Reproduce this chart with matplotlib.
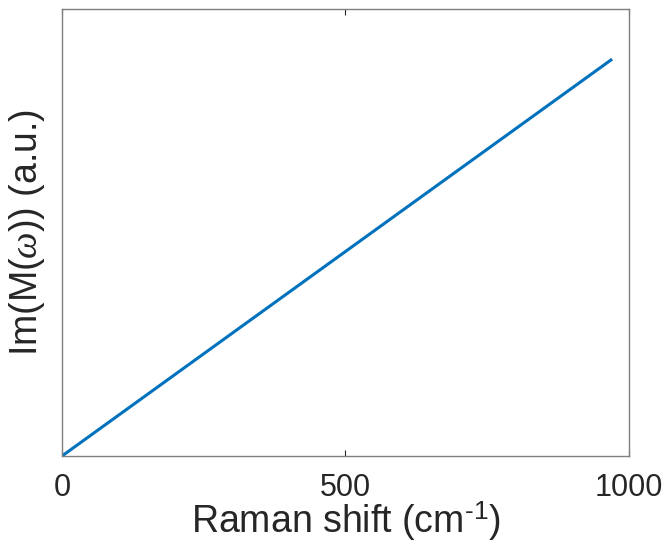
import numpy as np
import matplotlib
matplotlib.use("Agg")
import matplotlib.pyplot as plt

plt.rcParams['font.family'] = ['Liberation Sans', 'DejaVu Sans']
plt.rcParams['mathtext.fontset'] = 'custom'
plt.rcParams['mathtext.rm'] = 'Liberation Sans'
plt.rcParams['mathtext.it'] = 'Liberation Serif:italic'

# linear imaginary part of the response vs Raman shift
raman_shift = [0, 968]
im_m = [0, 0.886]
x_ticks = [0, 500, 1000]

fig = plt.figure(figsize=(6.71, 5.45), dpi=100)
ax = fig.add_axes([0.0924, 0.1633, 0.845, 0.820])

ax.plot(raman_shift, im_m, color='#0072BD', lw=2.2)

ax.set_xlim(0, 1000)
ax.set_ylim(0, 1)
ax.set_xticks(x_ticks)
ax.set_yticks([])
ax.tick_params(axis='x', direction='in', length=4, width=0.8, color='#262626',
               labelsize=22, labelcolor='#262626', pad=12, top=True)
for s in ax.spines.values():
    s.set_color('#7f7f7f')
    s.set_linewidth(1.0)

ax.set_xlabel('Raman shift (cm$^{\\text{-1}}$)', fontsize=27, color='#262626', labelpad=-2)
ax.set_ylabel(r'Im(M($\omega$)) (a.u.)', fontsize=27, color='#262626', labelpad=11)

fig.savefig('out.png', dpi=100)
